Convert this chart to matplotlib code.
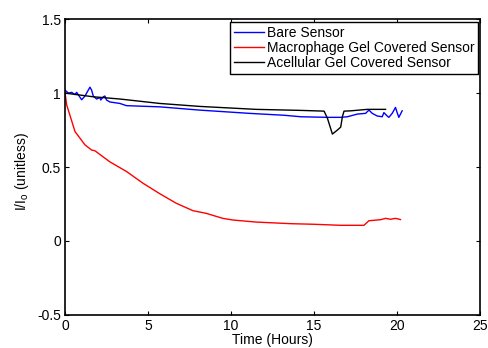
import matplotlib
matplotlib.use('Agg')
import matplotlib.pyplot as plt

plt.rcParams['font.family'] = ['Liberation Sans', 'DejaVu Sans']
plt.rcParams['mathtext.fontset'] = 'custom'
plt.rcParams['mathtext.rm'] = 'Liberation Sans'
plt.rcParams['mathtext.it'] = 'Liberation Sans'

# Bare sensor
bare_t = [0, 0.2, 0.4, 0.6, 0.7, 1.0, 1.2, 1.4, 1.5, 1.6, 1.7, 1.9, 2.1, 2.15, 2.3, 2.4,
          2.5, 2.7, 3.3, 3.7, 5.7, 8.1, 11.1, 13.2, 14.2, 15.8, 16.6, 17.0, 17.6, 18.1,
          18.3, 18.5, 18.8, 19.1, 19.2, 19.4, 19.5, 19.7, 19.9, 20.0, 20.1, 20.3]
bare_v = [1.02, 1.0, 1.005, 0.99, 1.005, 0.955, 0.98, 1.02, 1.04, 1.02, 0.98, 0.96, 0.97, 0.953,
          0.975, 0.98, 0.953, 0.94, 0.93, 0.915, 0.907, 0.885, 0.863, 0.85, 0.84, 0.836, 0.836,
          0.84, 0.858, 0.863, 0.885, 0.863, 0.845, 0.84, 0.868, 0.845, 0.836, 0.863, 0.903,
          0.868, 0.836, 0.88]

# Macrophage gel covered sensor
macro_t = [0, 0.1, 0.6, 1.2, 1.6, 1.8, 2.7, 3.7, 4.7, 5.7, 6.7, 7.7, 8.5, 9.5, 10.1, 11.5,
           13.6, 15.0, 16.6, 18.0, 18.3, 19.0, 19.3, 19.6, 19.9, 20.2]
macro_v = [1.0, 0.92, 0.74, 0.65, 0.615, 0.61, 0.535, 0.47, 0.39, 0.32, 0.255, 0.205, 0.187,
           0.153, 0.142, 0.128, 0.117, 0.113, 0.106, 0.106, 0.137, 0.144, 0.153, 0.147, 0.153, 0.145]

# Acellular gel covered sensor
acell_t = [0, 1.7, 3.3, 5.7, 8.1, 11.5, 14.2, 15.6, 15.8, 16.1, 16.4, 16.6, 16.7, 16.8, 17.2,
           18.2, 19.3]
acell_v = [1.0, 0.975, 0.96, 0.93, 0.91, 0.89, 0.883, 0.878, 0.83, 0.723, 0.75, 0.77, 0.84,
           0.878, 0.88, 0.89, 0.89]

fig = plt.figure(figsize=(4.89, 3.48), dpi=100)
ax = fig.add_axes([0.133, 0.095, 0.849, 0.850])

ax.plot(bare_t, bare_v, color='#0000ff', lw=1.0, label='Bare Sensor')
ax.plot(macro_t, macro_v, color='#ff0000', lw=1.0, label='Macrophage Gel Covered Sensor')
ax.plot(acell_t, acell_v, color='black', lw=1.0, label='Acellular Gel Covered Sensor')

ax.set_xlim(0, 25)
ax.set_ylim(-0.5, 1.5)
ax.set_xticks([0, 5, 10, 15, 20, 25])
ax.set_yticks([-0.5, 0, 0.5, 1, 1.5])
ax.set_yticklabels(['-0.5', '0', '0.5', '1', '1.5'])
ax.tick_params(direction='in', top=True, right=True, labelsize=10, length=3)
ax.tick_params(axis='x', pad=3)
ax.tick_params(axis='y', pad=3)
for s in ax.spines.values():
    s.set_linewidth(1.2)

ax.set_xlabel('Time (Hours)', fontsize=10, labelpad=0)
ax.set_ylabel(r'I/I$_\mathrm{o}$ (unitless)', fontsize=10)
ax.yaxis.set_label_coords(-0.082, 0.486)

leg = ax.legend(loc='upper right', bbox_to_anchor=(0.995, 0.99), fontsize=10,
                frameon=True, fancybox=False, edgecolor='black', framealpha=1,
                borderpad=0.25, labelspacing=0.1, handlelength=2.2, handletextpad=0.2,
                borderaxespad=0)
leg.get_frame().set_linewidth(1.0)

fig.savefig('out.png', dpi=100)
